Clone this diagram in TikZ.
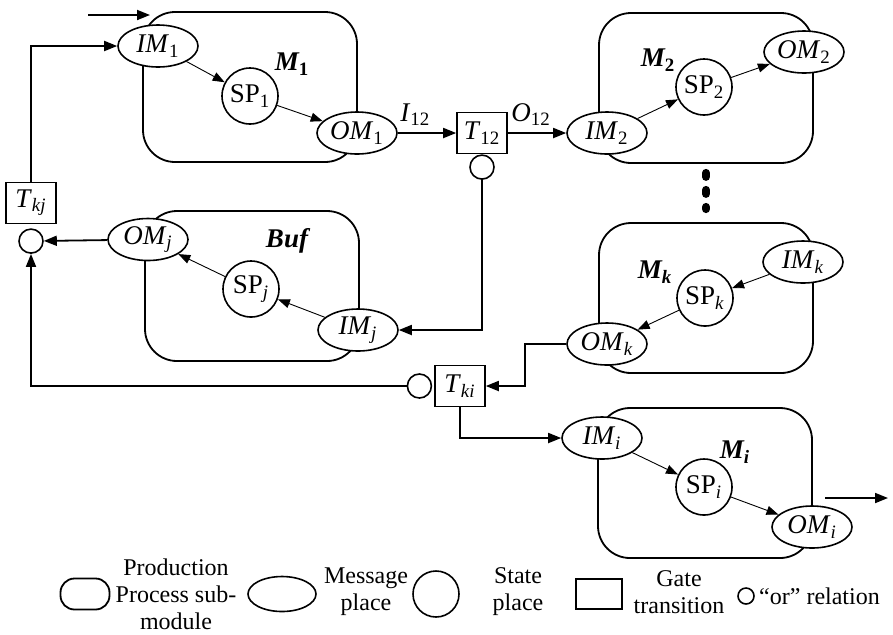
\documentclass[tikz,border=0pt]{standalone}
\usepackage{fontspec}
\setmainfont{Liberation Serif}
\usetikzlibrary{shapes.geometric,arrows.meta,positioning}

\newcommand{\lab}[2]{\textit{#1}\textsubscript{#2}}

\begin{document}
\begin{tikzpicture}[
        x=0.5pt, y=-0.5pt,
        every node/.style={font=\fontsize{13.5}{16}\selectfont},
        module/.style={draw, line width=0.9pt, rounded corners=16pt, minimum width=107pt, minimum height=75pt},
        msg/.style={draw, ellipse, fill=white, line width=0.8pt, inner sep=0pt, minimum width=40pt, minimum height=21pt},
        state/.style={draw, circle, fill=white, line width=0.8pt, inner sep=0pt, minimum size=28pt},
        gate/.style={draw, rectangle, fill=white, line width=0.8pt, inner sep=0pt, minimum width=25pt, minimum height=20.5pt},
        orrel/.style={draw, circle, fill=white, line width=0.8pt, inner sep=0pt, minimum size=12pt},
        conn/.style={-{Triangle[length=6.5pt, width=5pt]}, line width=0.9pt},
        flow/.style={-{Triangle[length=6pt, width=4.5pt]}, line width=0.45pt},
        title/.style={font=\fontsize{13.5}{16}\selectfont\bfseries\itshape},
        legend/.style={align=center, inner sep=1pt, font=\fontsize{12}{13.5}\selectfont}
    ]
    \useasboundingbox (0,0) rectangle (893,634);

    % sub-modules
    \node[module] (m1) at (250,87) {};
    \node[module] (m2) at (706,88) {};
    \node[module] (buf) at (252,286) {};
    \node[module] (mk) at (706,298) {};
    \node[module] (mi) at (705,483) {};

    \node[title] (m1name) at (292,64) {M\textsubscript{\upshape 1}};
    \node[title] (m2name) at (658,60) {M\textsubscript{\upshape 2}};
    \node[title] (bufname) at (287,241) {Buf};
    \node[title] (mkname) at (655,272) {M\textsubscript{k}};
    \node[title] (miname) at (735,452) {M\textsubscript{i}};

    % places and transitions
    \node[msg] (im1) at (158,46) {\lab{IM}{1}};
    \node[state] (sp1) at (250,96) {SP\textsubscript{1}};
    \node[msg] (om1) at (357,133) {\lab{OM}{1}};
    \node[gate] (t12) at (482,133) {\lab{T}{12}};
    \node[orrel, below=0pt of t12] (or12) {};
    \node[msg] (im2) at (607,133) {\lab{IM}{2}};
    \node[state] (sp2) at (704,87) {SP\textsubscript{2}};
    \node[msg] (om2) at (804,52) {\lab{OM}{2}};

    \node[gate] (tkj) at (31,203) {\lab{T}{\textit{kj}}};
    \node[orrel, below=2pt of tkj] (orkj) {};
    \node[msg] (omj) at (148,239.5) {\lab{OM}{\textit{j}}};
    \node[state] (spj) at (251,289) {SP\textsubscript{\textit{j}}};
    \node[msg] (imj) at (358,330) {\lab{IM}{\textit{j}}};

    \node[msg] (imk) at (803,262) {\lab{IM}{\textit{k}}};
    \node[state] (spk) at (705,298) {SP\textsubscript{\textit{k}}};
    \node[msg] (omk) at (607,344) {\lab{OM}{\textit{k}}};
    \node[gate] (tki) at (460,386) {\lab{T}{\textit{ki}}};
    \node[orrel, left=1pt of tki] (orki) {};

    \node[msg] (imi) at (602,438) {\lab{IM}{\textit{i}}};
    \node[state] (spi) at (704,487) {SP\textsubscript{\textit{i}}};
    \node[msg] (omi) at (812,527) {\lab{OM}{\textit{i}}};

    \draw[line width=4pt, line cap=round, dash pattern=on 2pt off 6.5pt] ([yshift=-4.5pt]m2.south) -- ([yshift=6.5pt]mk.north);

    % connectors
    \coordinate (start) at (88,15);
    \coordinate (entry) at (150,15);
    \draw[conn] (start) -- (entry);
    \draw[conn] (tkj.north) |- (im1.west);
    \draw[flow] (im1) -- (sp1);
    \draw[flow] (sp1) -- (om1);
    \draw[conn] (om1) -- node[above, pos=0.3] {\lab{I}{12}} (t12);
    \draw[conn] (t12) -- node[above, pos=0.4] {\lab{O}{12}} (im2);
    \draw[flow] (im2) -- (sp2);
    \draw[flow] (sp2) -- (om2);
    \draw[conn] (or12.south) |- (imj.east);
    \draw[flow] (imj) -- (spj);
    \draw[flow] (spj) -- (omj);
    \draw[conn] (omj) -- (orkj);
    \draw[conn] (orki.west) -| (orkj.south);
    \draw[flow] (imk) -- (spk);
    \draw[flow] (spk) -- (omk);
    \draw[conn] (omk.west) -- ++(-41,0) |- (tki.east);
    \draw[conn] (tki.south) |- (imi.west);
    \draw[flow] (imi) -- (spi);
    \draw[flow] (spi) -- (omi);
    \coordinate (exit) at (825,498);
    \coordinate (finish) at (888,498);
    \draw[conn] (exit) -- (finish);

    % legend
    \node[module, minimum width=24.5pt, minimum height=15.5pt, rounded corners=7pt] (keymod) at (85,594) {};
    \node[legend] (keymodtext) at (176,594) {Production\\Process sub-\\module};
    \node[msg, minimum width=34pt, minimum height=17.5pt] (keymsg) at (282,594) {};
    \node[legend] (keymsgtext) at (366,592) {Message\\place};
    \node[state, minimum size=23pt] (keystate) at (436,594) {};
    \node[legend] (keystatetext) at (518,592) {State\\place};
    \node[gate, minimum width=23pt, minimum height=15pt] (keygate) at (599,594) {};
    \node[legend] (keygatetext) at (679,592) {Gate\\transition};
    \node[orrel, minimum size=8pt] (keyor) at (746,596) {};
    \node[legend, right=1pt of keyor] (keyortext) {``or'' relation};
\end{tikzpicture}
\end{document}
